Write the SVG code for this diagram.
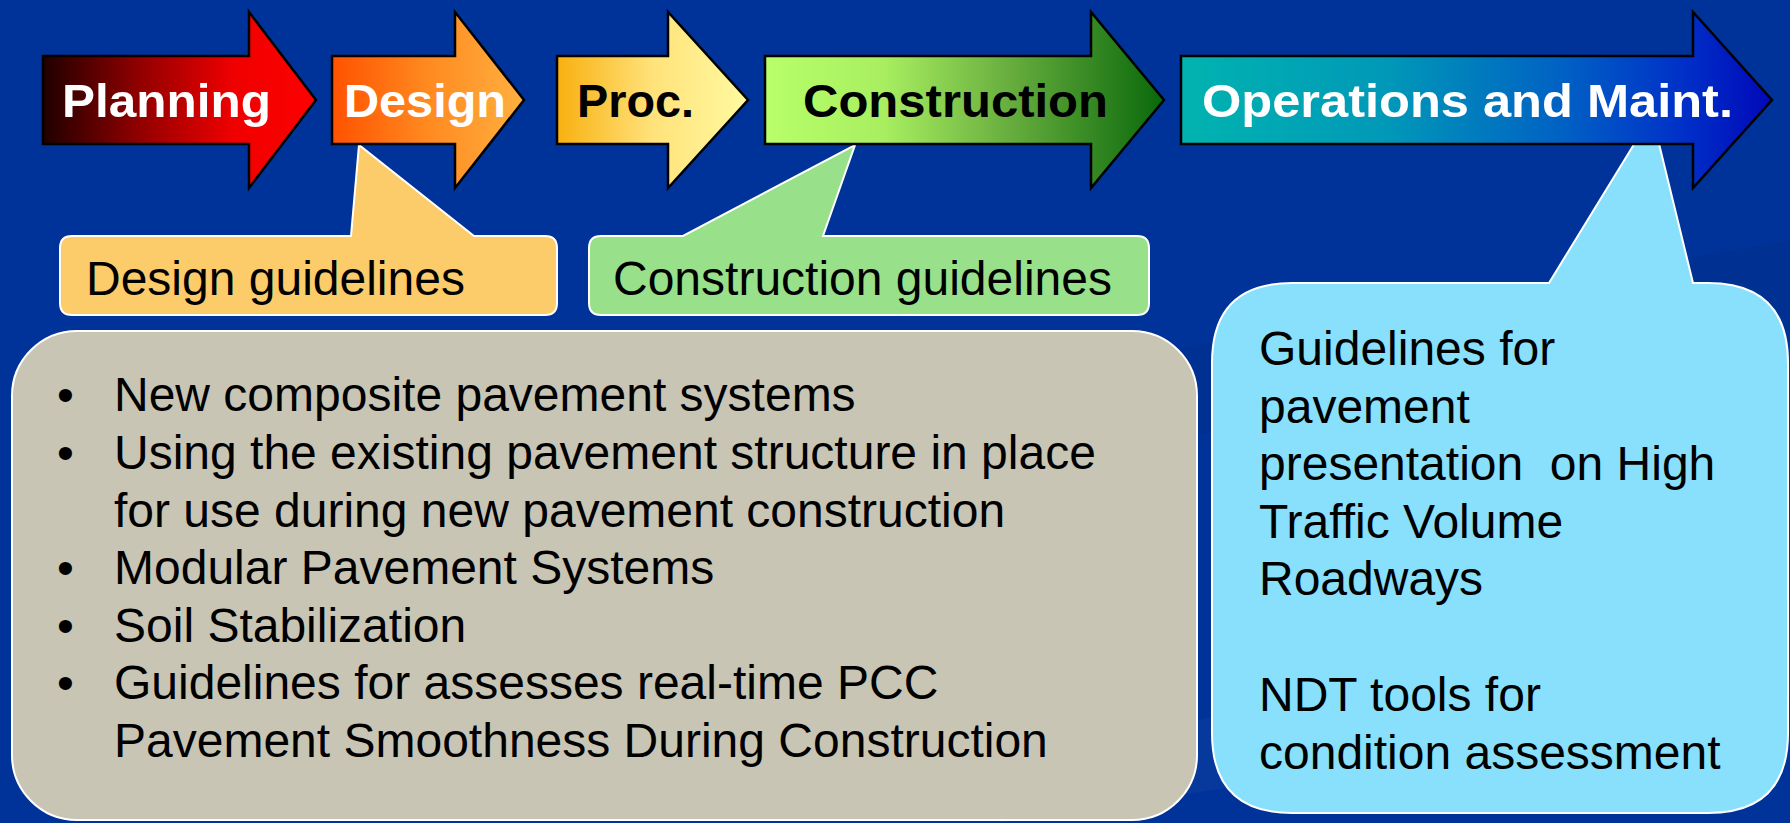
<svg xmlns="http://www.w3.org/2000/svg" width="1790" height="823" viewBox="0 0 1790 823">
<defs>
<style>
.arr{stroke:#000;stroke-width:2.5;stroke-linejoin:miter}
.lab{font-family:"Liberation Sans",Arial,sans-serif;font-weight:bold;font-size:47px}
.call{stroke:#fff;stroke-width:2}
.txt{font-family:"Liberation Sans",Arial,sans-serif;font-size:48px;fill:#000;white-space:pre}
</style>
<linearGradient id="gPlan" x1="0" y1="0" x2="1" y2="0">
<stop offset="0" stop-color="#200000"/><stop offset="0.35" stop-color="#900000"/><stop offset="0.7" stop-color="#f00000"/><stop offset="1" stop-color="#ff0000"/>
</linearGradient>
<linearGradient id="gDes" x1="0" y1="0" x2="1" y2="0">
<stop offset="0" stop-color="#ff5200"/><stop offset="0.5" stop-color="#ff8a20"/><stop offset="1" stop-color="#ffb040"/>
</linearGradient>
<linearGradient id="gProc" x1="0" y1="0" x2="1" y2="0">
<stop offset="0" stop-color="#f8b010"/><stop offset="0.5" stop-color="#ffe27a"/><stop offset="1" stop-color="#fffaa0"/>
</linearGradient>
<linearGradient id="gCon" x1="0" y1="0" x2="1" y2="0">
<stop offset="0" stop-color="#b8ff6a"/><stop offset="0.3" stop-color="#a8ee60"/><stop offset="0.6" stop-color="#6ab040"/><stop offset="1" stop-color="#0a680a"/>
</linearGradient>
<linearGradient id="gOps" x1="0" y1="0" x2="1" y2="0">
<stop offset="0" stop-color="#00b4b0"/><stop offset="0.35" stop-color="#0098b8"/><stop offset="0.65" stop-color="#0060c4"/><stop offset="0.85" stop-color="#0030c8"/><stop offset="1" stop-color="#0008b8"/>
</linearGradient>
</defs>
<rect width="1790" height="823" fill="#003399"/>
<polygon points="1000,380 1790,240 1790,330 1000,470" fill="#00308f" opacity="0.8"/>
<polygon points="1000,760 1790,600 1790,700 1000,823" fill="#0a3a9c" opacity="0.7"/>

<g id="callout-design">
<path class="call" fill="#fccb6a" d="M72,236 H351 L359,145 L474,236 H545 Q557,236 557,248 V303 Q557,315 545,315 H72 Q60,315 60,303 V248 Q60,236 72,236 Z"/>
<text class="txt" x="86" y="295">Design guidelines</text>
</g>
<g id="callout-construction">
<path class="call" fill="#98e08a" d="M601,236 H683 L855,145 L823,236 H1137 Q1149,236 1149,248 V303 Q1149,315 1137,315 H601 Q589,315 589,303 V248 Q589,236 601,236 Z"/>
<text class="txt" x="613" y="295">Construction guidelines</text>
</g>
<g id="box-list">
<rect class="call" x="12" y="331" width="1185" height="489" rx="65" ry="65" fill="#c8c5b5"/>
<g class="txt">
<text x="57" y="411">•</text><text x="114" y="411">New composite pavement systems</text>
<text x="57" y="469">•</text><text x="114" y="469">Using the existing pavement structure in place</text>
<text x="114" y="527">for use during new pavement construction</text>
<text x="57" y="584">•</text><text x="114" y="584">Modular Pavement Systems</text>
<text x="57" y="642">•</text><text x="114" y="642">Soil Stabilization</text>
<text x="57" y="699">•</text><text x="114" y="699">Guidelines for assesses real-time PCC</text>
<text x="114" y="757">Pavement Smoothness During Construction</text>
</g>
</g>
<g id="callout-ops">
<path class="call" fill="#88e0fc" d="M1292,283 H1549 L1652,115 L1693,283 H1708 Q1788,283 1788,363 V733 Q1788,813 1708,813 H1292 Q1212,813 1212,733 V363 Q1212,283 1292,283 Z"/>
<g class="txt">
<text x="1259" y="365">Guidelines for</text>
<text x="1259" y="423">pavement</text>
<text x="1259" y="480">presentation&#160; on High</text>
<text x="1259" y="538">Traffic Volume</text>
<text x="1259" y="595">Roadways</text>
<text x="1259" y="711">NDT tools for</text>
<text x="1259" y="769">condition assessment</text>
</g>
</g>

<g id="arrow-planning">
<path class="arr" fill="url(#gPlan)" d="M43,56 H249 V12 L316,100 L249,188 V144 H43 Z"/>
<text class="lab" x="62" y="117" fill="#fff" textLength="209" lengthAdjust="spacingAndGlyphs">Planning</text>
</g>
<g id="arrow-design">
<path class="arr" fill="url(#gDes)" d="M332,56 H455 V12 L524,100 L455,188 V144 H332 Z"/>
<text class="lab" x="344" y="117" fill="#fff" textLength="162" lengthAdjust="spacingAndGlyphs">Design</text>
</g>
<g id="arrow-proc">
<path class="arr" fill="url(#gProc)" d="M557,56 H668 V12 L748,100 L668,188 V144 H557 Z"/>
<text class="lab" x="577" y="117" fill="#000" textLength="117" lengthAdjust="spacingAndGlyphs">Proc.</text>
</g>
<g id="arrow-construction">
<path class="arr" fill="url(#gCon)" d="M765,56 H1091 V12 L1164,100 L1091,188 V144 H765 Z"/>
<text class="lab" x="803" y="117" fill="#000" textLength="305" lengthAdjust="spacingAndGlyphs">Construction</text>
</g>
<g id="arrow-ops">
<path class="arr" fill="url(#gOps)" d="M1181,56 H1693 V12 L1772,100 L1693,188 V144 H1181 Z"/>
<text class="lab" x="1202" y="117" fill="#fff" textLength="531" lengthAdjust="spacingAndGlyphs">Operations and Maint.</text>
</g>
<g id="connectors"/>
</svg>
